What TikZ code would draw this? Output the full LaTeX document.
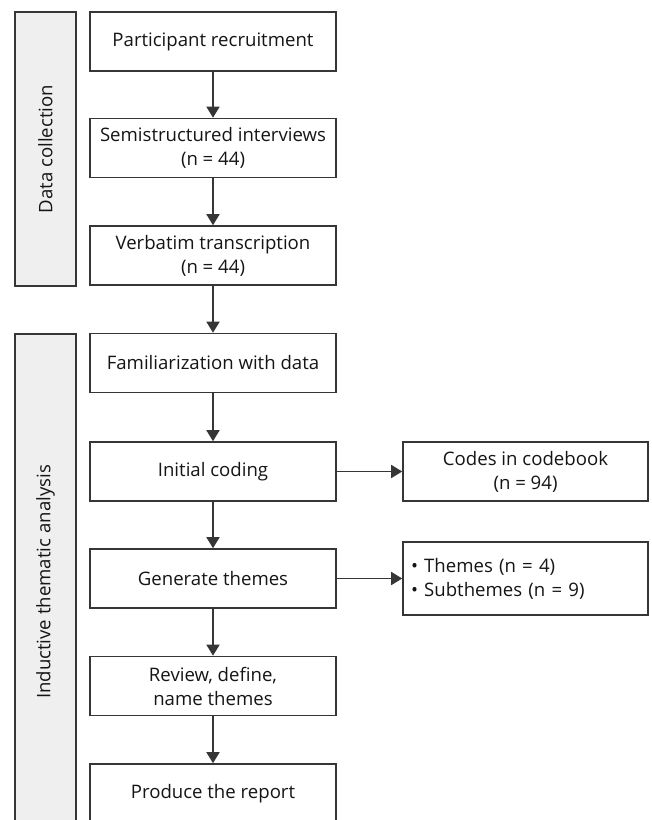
\documentclass[tikz,border=0pt]{standalone}
\usepackage{fontspec}
\setmainfont{Open Sans}
\usetikzlibrary{arrows.meta,positioning}
\definecolor{linegray}{HTML}{363636}
\definecolor{textgray}{HTML}{151515}
\definecolor{barfill}{HTML}{EFEFEF}

\begin{document}
\begin{tikzpicture}[x=1pt,y=-1pt,
        font=\fontsize{18.6}{24}\selectfont, text=textgray,
        stepbox/.style={draw=linegray, line width=1.6pt, fill=white, minimum width=246pt, minimum height=59pt, align=center, inner sep=2pt},
        outbox/.style={stepbox, minimum width=245pt},
        sidebar/.style={draw=linegray, line width=1.6pt, fill=barfill, rotate=90, minimum height=61pt, inner sep=0pt},
        flow/.style={draw=linegray, line width=1.6pt, -{Triangle[length=11pt,width=13pt]}}]
    \useasboundingbox (0,0) rectangle (652,820);
    % phase bars
    \node[sidebar, minimum width=274pt] (collect) at (45.5,149) {Data collection};
    \node[sidebar, minimum width=496pt] (analysis) at (45.5,582) {Inductive thematic analysis};
    % main steps
    \node[stepbox] (recruit) at (213,41.5) {Participant recruitment};
    \node[stepbox] (interview) at (213,148) {Semistructured interviews\\(n = 44)};
    \node[stepbox] (transcribe) at (213,255.5) {Verbatim transcription\\(n = 44)};
    \node[stepbox] (familiar) at (213,363) {Familiarization with data};
    \node[stepbox] (coding) at (213,471.5) {Initial coding};
    \node[stepbox] (generate) at (213,578.5) {Generate themes};
    \node[stepbox] (review) at (213,686) {Review, define,\\name themes};
    \node[stepbox] (report) at (213,793.5) {Produce the report};
    % outputs
    \node[outbox] (codebook) at (525.5,471.5) {Codes in codebook\\(n = 94)};
    \node[outbox, minimum height=73pt, align=left, text width=229pt] (themes) at (525.5,578.5) {\textbullet\ Themes (n = 4)\\\textbullet\ Subthemes (n = 9)};
    \draw[flow] (recruit) -- (interview);
    \draw[flow] (interview) -- (transcribe);
    \draw[flow] (transcribe) -- (familiar);
    \draw[flow] (familiar) -- (coding);
    \draw[flow] (coding) -- (generate);
    \draw[flow] (generate) -- (review);
    \draw[flow] (review) -- (report);
    \draw[flow] (coding) -- (codebook);
    \draw[flow] (generate) -- (themes);
\end{tikzpicture}
\end{document}
